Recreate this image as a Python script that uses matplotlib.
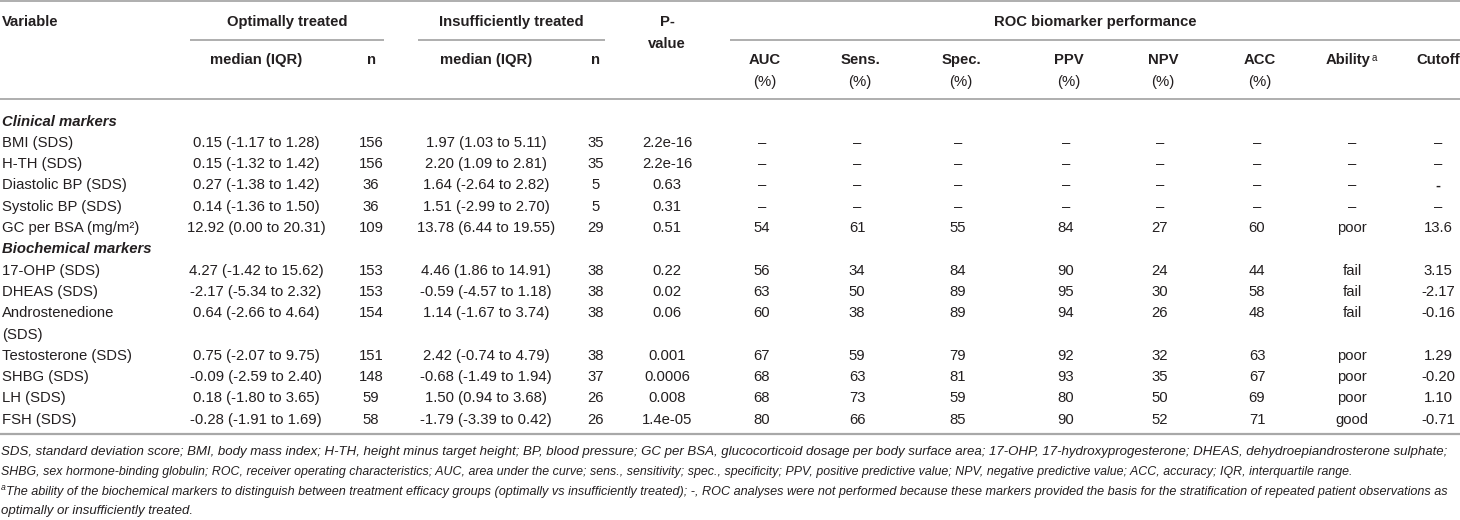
import matplotlib
matplotlib.use('Agg')
import matplotlib.pyplot as plt
from matplotlib import font_manager

plt.rcParams['font.family'] = ['Liberation Sans', 'DejaVu Sans']

# Datos de la tabla
variables = ['BMI (SDS)', 'H-TH (SDS)', 'Diastolic BP (SDS)', 'Systolic BP (SDS)',
             'GC per BSA (mg/m²)',
             '17-OHP (SDS)', 'DHEAS (SDS)', 'Androstenedione\n(SDS)', 'Testosterone (SDS)',
             'SHBG (SDS)', 'LH (SDS)', 'FSH (SDS)']
sections = ['Clinical markers', 'Biochemical markers']
section_sizes = [5, 7]

opt_median = ['0.15 (-1.17 to 1.28)', '0.15 (-1.32 to 1.42)', '0.27 (-1.38 to 1.42)',
              '0.14 (-1.36 to 1.50)', '12.92 (0.00 to 20.31)', '4.27 (-1.42 to 15.62)',
              '-2.17 (-5.34 to 2.32)', '0.64 (-2.66 to 4.64)', '0.75 (-2.07 to 9.75)',
              '-0.09 (-2.59 to 2.40)', '0.18 (-1.80 to 3.65)', '-0.28 (-1.91 to 1.69)']
opt_n = [156, 156, 36, 36, 109, 153, 153, 154, 151, 148, 59, 58]
ins_median = ['1.97 (1.03 to 5.11)', '2.20 (1.09 to 2.81)', '1.64 (-2.64 to 2.82)',
              '1.51 (-2.99 to 2.70)', '13.78 (6.44 to 19.55)', '4.46 (1.86 to 14.91)',
              '-0.59 (-4.57 to 1.18)', '1.14 (-1.67 to 3.74)', '2.42 (-0.74 to 4.79)',
              '-0.68 (-1.49 to 1.94)', '1.50 (0.94 to 3.68)', '-1.79 (-3.39 to 0.42)']
ins_n = [35, 35, 5, 5, 29, 38, 38, 38, 38, 37, 26, 26]
p_values = ['2.2e-16', '2.2e-16', '0.63', '0.31', '0.51', '0.22', '0.02', '0.06',
            '0.001', '0.0006', '0.008', '1.4e-05']

# Rendimiento ROC (None = no realizado)
auc = [None, None, None, None, 54, 56, 63, 60, 67, 68, 68, 80]
sens = [None, None, None, None, 61, 34, 50, 38, 59, 63, 73, 66]
spec = [None, None, None, None, 55, 84, 89, 89, 79, 81, 59, 85]
ppv = [None, None, None, None, 84, 90, 95, 94, 92, 93, 80, 90]
npv = [None, None, None, None, 27, 24, 30, 26, 32, 35, 50, 52]
acc = [None, None, None, None, 60, 44, 58, 48, 63, 67, 69, 71]
ability = [None, None, None, None, 'poor', 'fail', 'fail', 'fail', 'poor', 'poor', 'poor', 'good']
cutoff = [None, None, '-', None, '13.6', '3.15', '-2.17', '-0.16', '1.29', '-0.20', '1.10', '-0.71']

roc_headers = ['AUC', 'Sens.', 'Spec.', 'PPV', 'NPV', 'ACC']
roc_columns = [auc, sens, spec, ppv, npv, acc]

footnotes = [
    'SDS, standard deviation score; BMI, body mass index; H-TH, height minus target height; BP, blood pressure; '
    'GC per BSA, glucocorticoid dosage per body surface area; 17-OHP, 17-hydroxyprogesterone; DHEAS, dehydroepiandrosterone sulphate;',
    'SHBG, sex hormone-binding globulin; ROC, receiver operating characteristics; AUC, area under the curve; sens., sensitivity; '
    'spec., specificity; PPV, positive predictive value; NPV, negative predictive value; ACC, accuracy; IQR, interquartile range.',
    'The ability of the biochemical markers to distinguish between treatment efficacy groups (optimally vs insufficiently treated); -, '
    'ROC analyses were not performed because these markers provided the basis for the stratification of repeated patient observations as',
    'optimally or insufficiently treated.',
]

# Posiciones de las columnas (pixeles)
x_var = 2
x_med1, x_n1, x_med2, x_n2, x_p = 256, 371, 486, 596, 667
x_roc = [762, 857, 958, 1066, 1160, 1257]
x_ability, x_cutoff = 1352, 1438

txt_color = '#231f20'
line_color = '#a8a8a8'
fs = 10.7

# Fuente estrecha para las notas si existe
installed = {f.name for f in font_manager.fontManager.ttflist}
foot_family = ['Liberation Sans Narrow'] if 'Liberation Sans Narrow' in installed else ['Liberation Sans']

fig = plt.figure(figsize=(14.6, 5.2), dpi=100)
ax = fig.add_axes([0, 0, 1, 1])
ax.set_xlim(0, 1460)
ax.set_ylim(520, 0)
ax.axis('off')


def hline(x0, x1, y, lw=1.3):
    ax.plot([x0, x1], [y, y], color=line_color, lw=lw, solid_capstyle='butt')


def cell(x, y, s, ha='center', bold=False, italic=False, size=fs):
    return ax.text(x, y, s, ha=ha, va='center', fontsize=size, color=txt_color,
                   fontweight='bold' if bold else 'normal',
                   fontstyle='italic' if italic else 'normal')


# Encabezado
hline(0, 1460, 1)
cell(x_var, 22, 'Variable', ha='left', bold=True)
cell(287, 22, 'Optimally treated', bold=True)
cell(511, 22, 'Insufficiently treated', bold=True)
cell(x_p, 22, 'P-', bold=True)
cell(x_p, 44, 'value', bold=True)
cell(1095, 22, 'ROC biomarker performance', bold=True)
hline(190, 384, 40)
hline(418, 605, 40)
hline(730, 1460, 40)
cell(x_med1, 60, 'median (IQR)', bold=True)
cell(x_n1, 60, 'n', bold=True)
cell(x_med2, 60, 'median (IQR)', bold=True)
cell(x_n2, 60, 'n', bold=True)
for x, h in zip(x_roc, roc_headers):
    cell(x + 3, 60, h, bold=True)
    cell(x + 3, 82, '(%)')
t_ab = cell(x_ability - 4, 60, 'Ability', bold=True)
ax.annotate('a', xy=(1, 1), xycoords=t_ab, xytext=(0.5, 0), textcoords='offset points',
            ha='left', va='top', fontsize=7, color=txt_color)
cell(x_cutoff, 60, 'Cutoff', bold=True)
hline(0, 1460, 99)

# Filas
y0, pitch = 121.5, 21.3
line_idx = 0
row = 0
for sec, size in zip(sections, section_sizes):
    cell(x_var, y0 + line_idx * pitch, sec, ha='left', bold=True, italic=True)
    line_idx += 1
    for _ in range(size):
        y = y0 + line_idx * pitch
        parts = variables[row].split('\n')
        for k, part in enumerate(parts):
            cell(x_var, y + k * pitch, part, ha='left')
        cell(x_med1, y, opt_median[row])
        cell(x_n1, y, str(opt_n[row]))
        cell(x_med2, y, ins_median[row])
        cell(x_n2, y, str(ins_n[row]))
        cell(x_p, y, p_values[row])
        for x, col in zip(x_roc, roc_columns):
            v = col[row]
            cell(x, y, '–' if v is None else str(v))
        cell(x_ability, y, '–' if ability[row] is None else ability[row])
        c = cutoff[row]
        if c is None:
            cell(x_cutoff, y, '–')
        elif c == '-':
            cell(x_cutoff, y, '-', bold=True)
        else:
            cell(x_cutoff, y, c)
        line_idx += len(parts)
        row += 1
hline(0, 1460, 434, lw=1.6)

# Notas al pie (ajustadas al ancho de la referencia)
fig.canvas.draw()
renderer = fig.canvas.get_renderer()


def text_width(s, size):
    probe = ax.text(0, 0, s, fontsize=size, fontstyle='italic', family=foot_family)
    w = probe.get_window_extent(renderer).width
    probe.remove()
    return w


foot_y = [452, 472, 492, 511]
foot_x = [1, 1, 6, 1]
foot_right = [1456, 1346, 1456, None]
base = 9.0
size1 = base * 1455 / text_width(footnotes[0], base)
for i, (yy, s) in enumerate(zip(foot_y, footnotes)):
    size = size1
    if foot_right[i] is not None:
        size = base * (foot_right[i] - foot_x[i]) / text_width(s, base)
    if i == 2:
        ax.text(0.5, yy - 4, 'a', fontsize=size1 * 0.65, fontstyle='italic',
                family=foot_family, color=txt_color, ha='left', va='center')
    ax.text(foot_x[i], yy, s, fontsize=size, fontstyle='italic', family=foot_family,
            color=txt_color, ha='left', va='center')

fig.savefig('out.png', dpi=100)
